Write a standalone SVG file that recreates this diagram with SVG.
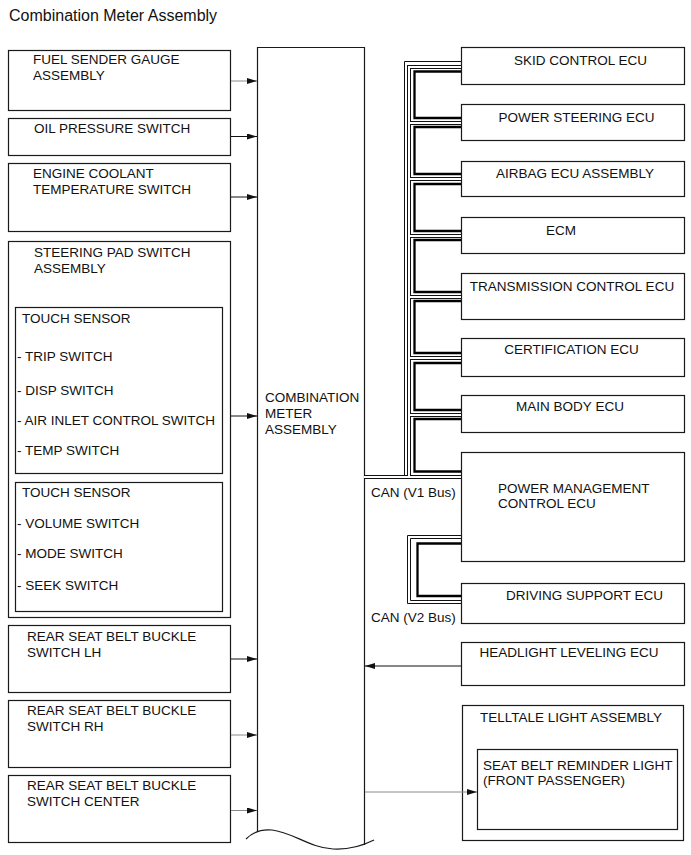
<svg xmlns="http://www.w3.org/2000/svg" width="691" height="855" viewBox="0 0 691 855">
<style>
.box{fill:#fff;stroke:#1a1a1a;stroke-width:1.2}
.t{font-family:"Liberation Sans",Arial,sans-serif;font-size:13.5px;fill:#111}
.m{text-anchor:middle}
.title{font-size:16px}
.ar{fill:none;stroke:#111;stroke-width:1;marker-end:url(#ah)}
.g{stroke:#8a8a8a}
.w1{fill:none;stroke:#111;stroke-width:1}
.hb{fill:none;stroke:#111;stroke-width:4}
.hw{fill:none;stroke:#fff;stroke-width:2}
.thk{fill:none;stroke:#000;stroke-width:2.3}
</style>
<defs>
<marker id="ah" markerWidth="10" markerHeight="6" refX="10" refY="3" orient="auto" markerUnits="userSpaceOnUse"><path d="M0,0 L10,3 L0,6 z" fill="#111"/></marker>
</defs>
<rect width="691" height="855" fill="#fff"/>
<text class="t title" x="9" y="20.5">Combination Meter Assembly</text>

<g id="fuel"><rect class="box" x="8.5" y="50.5" width="222" height="60"/><text class="t" x="33" y="64">FUEL SENDER GAUGE</text><text class="t" x="33" y="80">ASSEMBLY</text></g>
<g id="oil"><rect class="box" x="8.5" y="118.5" width="222" height="37"/><text class="t" x="34" y="133">OIL PRESSURE SWITCH</text></g>
<g id="coolant"><rect class="box" x="8.5" y="163.5" width="222" height="68"/><text class="t" x="33" y="177.5">ENGINE COOLANT</text><text class="t" x="33" y="193.5">TEMPERATURE SWITCH</text></g>
<g id="steering"><rect class="box" x="8.5" y="241.5" width="222" height="376"/><text class="t" x="34" y="257">STEERING PAD SWITCH</text><text class="t" x="34" y="273">ASSEMBLY</text>
<g id="touch1"><rect class="box" x="15.5" y="307.5" width="207" height="166"/><text class="t" x="22" y="323">TOUCH SENSOR</text><text class="t" x="17" y="361">- TRIP SWITCH</text><text class="t" x="17" y="395">- DISP SWITCH</text><text class="t" x="17" y="425">- AIR INLET CONTROL SWITCH</text><text class="t" x="17" y="455">- TEMP SWITCH</text></g>
<g id="touch2"><rect class="box" x="15.5" y="482.5" width="207" height="129"/><text class="t" x="22" y="497">TOUCH SENSOR</text><text class="t" x="17" y="528">- VOLUME SWITCH</text><text class="t" x="17" y="558">- MODE SWITCH</text><text class="t" x="17" y="590">- SEEK SWITCH</text></g>
</g>
<g id="rear-lh"><rect class="box" x="8.5" y="625.5" width="222" height="67"/><text class="t" x="27" y="641">REAR SEAT BELT BUCKLE</text><text class="t" x="27" y="657">SWITCH LH</text></g>
<g id="rear-rh"><rect class="box" x="8.5" y="700.5" width="222" height="67"/><text class="t" x="27" y="715">REAR SEAT BELT BUCKLE</text><text class="t" x="27" y="731">SWITCH RH</text></g>
<g id="rear-center"><rect class="box" x="8.5" y="775.5" width="222" height="67"/><text class="t" x="27" y="790">REAR SEAT BELT BUCKLE</text><text class="t" x="27" y="806">SWITCH CENTER</text></g>

<g id="meter">
<path d="M257.5,832 V47.5 H364.5 V845" fill="none" stroke="#1a1a1a" stroke-width="1.2"/>
<path d="M246,839 C253,832 262,829 272,830 C292,832 310,848 333,849 C350,850 364,845 374,840" fill="none" stroke="#1a1a1a" stroke-width="1.2"/>
<text class="t" x="265" y="402">COMBINATION</text><text class="t" x="265" y="418">METER</text><text class="t" x="265" y="434">ASSEMBLY</text>
</g>

<g id="skid"><rect class="box" x="461.5" y="47.5" width="223" height="37"/><text class="t m" x="580.5" y="65">SKID CONTROL ECU</text></g>
<g id="eps"><rect class="box" x="461.5" y="104.5" width="223" height="36"/><text class="t m" x="576.5" y="121.5">POWER STEERING ECU</text></g>
<g id="airbag"><rect class="box" x="461.5" y="161.5" width="223" height="35"/><text class="t m" x="575" y="178">AIRBAG ECU ASSEMBLY</text></g>
<g id="ecm"><rect class="box" x="461.5" y="217.5" width="223" height="36"/><text class="t m" x="561" y="235">ECM</text></g>
<g id="tcu"><rect class="box" x="461.5" y="273.5" width="223" height="46"/><text class="t m" x="572" y="291">TRANSMISSION CONTROL ECU</text></g>
<g id="cert"><rect class="box" x="461.5" y="338.5" width="223" height="38"/><text class="t m" x="571.5" y="354">CERTIFICATION ECU</text></g>
<g id="mainbody"><rect class="box" x="461.5" y="395.5" width="223" height="37"/><text class="t m" x="570" y="411">MAIN BODY ECU</text></g>
<g id="pmc"><rect class="box" x="461.5" y="452.5" width="223" height="109"/><text class="t" x="498" y="492.5">POWER MANAGEMENT</text><text class="t" x="498" y="508">CONTROL ECU</text></g>
<g id="drive"><rect class="box" x="461.5" y="583.5" width="223" height="40"/><text class="t m" x="584.5" y="600">DRIVING SUPPORT ECU</text></g>
<g id="headlight"><rect class="box" x="461.5" y="642.5" width="223" height="43"/><text class="t m" x="569" y="657">HEADLIGHT LEVELING ECU</text></g>
<g id="telltale"><rect class="box" x="462.5" y="705.5" width="221" height="135"/><text class="t" x="480" y="721.5">TELLTALE LIGHT ASSEMBLY</text>
<g id="seatbelt-light"><rect class="box" x="477.5" y="749.5" width="200" height="80"/><text class="t" x="483" y="770">SEAT BELT REMINDER LIGHT</text><text class="t" x="483" y="785">(FRONT PASSENGER)</text></g>
</g>

<g id="connectors">
<line class="ar g" x1="231" y1="81" x2="257" y2="81"/>
<line class="ar" x1="231" y1="136.5" x2="257" y2="136.5"/>
<line class="ar" x1="231" y1="197" x2="257" y2="197"/>
<line class="ar" x1="231" y1="416" x2="257" y2="416"/>
<line class="ar" x1="231" y1="659" x2="257" y2="659"/>
<line class="ar g" x1="231" y1="735" x2="257" y2="735"/>
<line class="ar g" x1="231" y1="810.5" x2="257" y2="810.5"/>
<line class="ar" x1="461" y1="666" x2="365" y2="666"/>
<line class="ar g" x1="365" y1="792" x2="477" y2="792"/>
<g id="can-v1">
<path class="w1" d="M404.5,477 V61.5 H461"/>
<path class="hb" d="M364,477 H461 M409,477 V67 H461 M409,123 H461 M409,179 H461 M409,236 H461 M409,297 H461 M409,358 H461 M409,415 H461"/>
<path class="hw" d="M364,477 H461 M409,477 V67 H461 M409,123 H461 M409,179 H461 M409,236 H461 M409,297 H461 M409,358 H461 M409,415 H461"/>
<path class="thk" d="M461,71.5 H414.5 V118 H461 M461,127 H414.5 V174 H461 M461,184 H414.5 V231 H461 M461,240 H414.5 V292 H461 M461,301 H414.5 V353 H461 M461,363 H414.5 V410 H461 M461,419 H414.5 V471.5 H461"/>
</g>
<g id="can-v2">
<path class="w1" d="M461,535.5 H407.5 V603.5 H461"/>
<path class="w1" d="M461,538.5 H410.5 V600.5 H461"/>
<path class="thk" d="M461,543.5 H417.5 V596 H461"/>
</g>
<text class="t" x="371" y="497">CAN (V1 Bus)</text>
<text class="t" x="371" y="622">CAN (V2 Bus)</text>
</g>
</svg>
